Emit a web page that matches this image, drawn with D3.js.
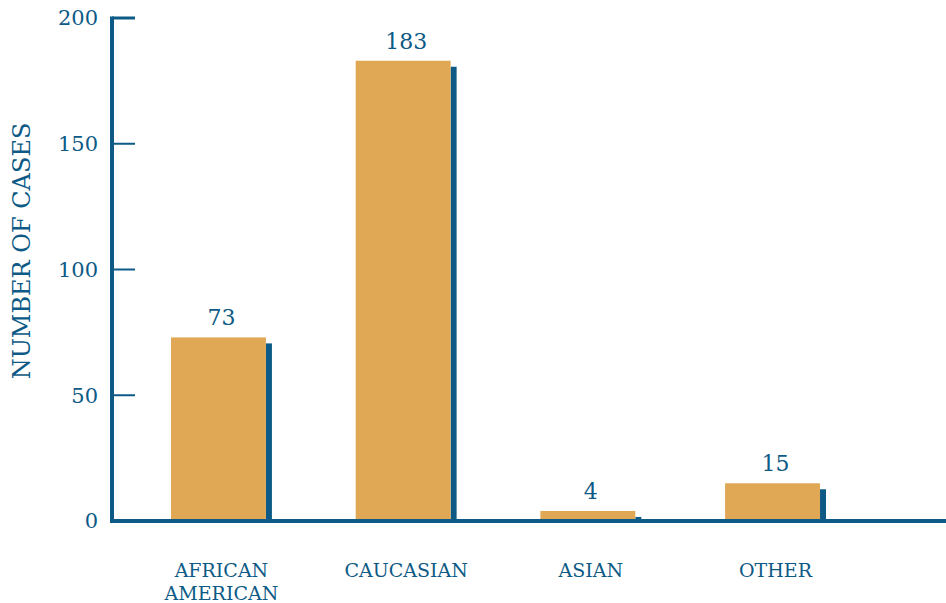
<!DOCTYPE html>
<html><head><meta charset="utf-8">
<script src="https://cdn.jsdelivr.net/npm/d3@7"></script>
<style>body{margin:0;background:#fff}svg{display:block}text{font-family:"DejaVu Serif",serif}</style>
</head><body>
<svg id="c" width="946" height="603"></svg>
<script>
const categories = [["AFRICAN","AMERICAN"],["CAUCASIAN"],["ASIAN"],["OTHER"]];
const values = [73, 183, 4, 15];
const yTicks = [0, 50, 100, 150, 200];
const yTitle = "NUMBER OF CASES";

const blue = "#0c5a85", orange = "#e0a855";
const svg = d3.select("#c");
const x = d3.scaleBand().domain(d3.range(values.length)).range([126.1, 864.9]).paddingInner(0.486).paddingOuter(0.243);
const y = d3.scaleLinear().domain([0, 200]).range([521, 18]);
const axisX = 112;

svg.selectAll("rect.sh").data(values).join("rect")
  .attr("x", (d,i) => x(i) + x.bandwidth()).attr("width", 6)
  .attr("y", d => y(d) + 6).attr("height", d => y(0) - y(d) - 6)
  .attr("fill", blue);
svg.selectAll("rect.bar").data(values).join("rect")
  .attr("x", (d,i) => x(i)).attr("width", x.bandwidth())
  .attr("y", d => y(d)).attr("height", d => y(0) - y(d))
  .attr("fill", orange);

svg.selectAll("text.v").data(values).join("text")
  .attr("x", (d,i) => x(i) + x.bandwidth()/2 + 3).attr("y", d => y(d) - 12)
  .attr("text-anchor", "middle").attr("font-size", 22)
  .attr("fill", blue).text(d => d);

svg.append("line").attr("x1", axisX).attr("x2", axisX).attr("y1", y(200) - 1.5).attr("y2", y(0) + 2)
  .attr("stroke", blue).attr("stroke-width", 4);
svg.append("line").attr("x1", axisX - 2).attr("x2", 946).attr("y1", y(0)).attr("y2", y(0))
  .attr("stroke", blue).attr("stroke-width", 4);
svg.selectAll("line.t").data(yTicks.filter(t => t > 0)).join("line")
  .attr("x1", axisX).attr("x2", 135).attr("y1", d => y(d)).attr("y2", d => y(d))
  .attr("stroke", blue).attr("stroke-width", d => d === 200 ? 3 : 2);
svg.selectAll("text.yt").data(yTicks).join("text")
  .attr("x", 98).attr("y", d => y(d)).attr("dy", "0.35em")
  .attr("text-anchor", "end").attr("font-size", 21)
  .attr("fill", blue).text(d => d);

svg.append("text").attr("transform", "translate(30,251) rotate(-90)")
  .attr("text-anchor", "middle").attr("font-size", 24)
  .attr("fill", blue).text(yTitle);

categories.forEach((lines, i) => {
  const t = svg.append("text").attr("text-anchor", "middle")
    .attr("font-size", 19).attr("fill", blue);
  lines.forEach((l, j) => t.append("tspan").attr("x", x(i) + x.bandwidth()/2 + 3).attr("y", 577 + j*23).text(l));
});
</script>
</body></html>
